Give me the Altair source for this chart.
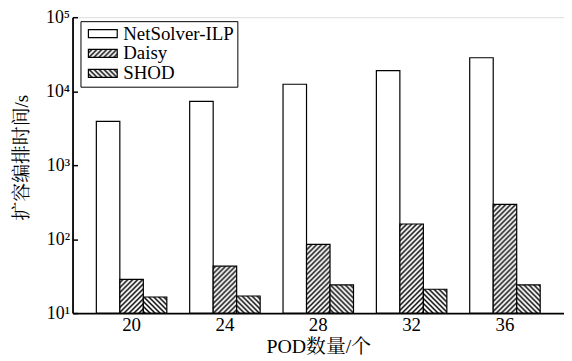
import altair as alt
import pandas as pd
import jinja2

# ---- data ----
pods = ["20", "24", "28", "32", "36"]
methods = ["NetSolver-ILP", "Daisy", "SHOD"]
netsolver_ilp = [3900, 7300, 12400, 19000, 28300]
daisy = [28.5, 43, 85, 160, 295]
shod = [16.5, 17, 24, 21, 24]
y_tick_values = [10, 100, 1000, 10000, 100000]
y_tick_labels = ["10¹", "10²", "10³", "10⁴", "10⁵"]

rows = []
for series_name, vals in zip(methods, [netsolver_ilp, daisy, shod]):
    for p, v in zip(pods, vals):
        rows.append({"pod": p, "method": series_name, "value": v})
df = pd.DataFrame(rows)

SERIF = "Liberation Serif, Noto Serif CJK SC, Noto Sans CJK SC"
fills = ["white", "url(#hatchF) white", "url(#hatchB) white"]

label_expr = "[" + ",".join("'" + s + "'" for s in y_tick_labels) + "][round(log(datum.value)/LN10) - 1]"

bars = alt.Chart(df).mark_bar(stroke="black", strokeWidth=1.2).encode(
    x=alt.X(
        "pod:N",
        sort=pods,
        scale=alt.Scale(paddingInner=0.245, paddingOuter=0.255),
        axis=alt.Axis(
            title="POD数量/个",
            labelAngle=0,
            labelFont=SERIF,
            labelFontSize=19,
            labelColor="black",
            labelPadding=3,
            ticks=False,
            domainColor="black",
            domainWidth=1.8,
            titleFont=SERIF,
            titleFontSize=20,
            titleFontWeight="normal",
            titleColor="black",
            titlePadding=2,
        ),
    ),
    xOffset=alt.XOffset("method:N", sort=methods),
    y=alt.Y(
        "value:Q",
        stack=None,
        scale=alt.Scale(type="log", domain=[10, 100000]),
        axis=alt.Axis(
            title="扩容编排时间/s",
            values=y_tick_values,
            labelExpr=label_expr,
            labelFont=SERIF,
            labelFontSize=18,
            labelColor="black",
            labelPadding=8,
            tickSize=alt.ExprRef("-5"),
            tickColor="black",
            tickWidth=1.5,
            domainColor="black",
            domainWidth=1.8,
            grid=False,
            titleFont=SERIF,
            titleFontSize=19,
            titleFontWeight="normal",
            titleColor="black",
            titleX=-51,
            titleY=141,
            titleAngle=-90,
            titleAlign="center",
            titleBaseline="middle",
        ),
    ),
    fill=alt.Fill(
        "method:N",
        sort=methods,
        scale=alt.Scale(domain=methods, range=fills),
        legend=alt.Legend(
            title=None,
            orient="none",
            legendX=8,
            legendY=4,
            direction="vertical",
            symbolType="M-3.6,-1H3.6V1H-3.6Z",
            symbolSize=65,
            symbolStrokeColor="black",
            symbolStrokeWidth=1.2,
            symbolOffset=10,
            labelFont=SERIF,
            labelFontSize=19,
            labelColor="black",
            labelOffset=11,
            rowPadding=-1,
            padding=3,
            strokeColor="black",
            fillColor="white",
        ),
    ),
)

chart = bars.properties(
    width=495,
    height=298,
    autosize=alt.AutoSizeParams(type="none"),
    padding={"left": 65, "top": 8, "right": 0, "bottom": 47},
).configure_view(
    stroke="black", strokeWidth=1.8
).configure(background="white", font=SERIF)

TEMPLATE = jinja2.Template("""<!DOCTYPE html>
<html>
<head>
  <style>
    #{{ output_div }}.vega-embed { width: 100%; display: flex; }
    #{{ output_div }}.vega-embed details,
    #{{ output_div }}.vega-embed details summary { position: relative; }
  </style>
  <script type="text/javascript" src="{{ base_url }}/vega@{{ vega_version }}"></script>
  <script type="text/javascript" src="{{ base_url }}/vega-lite@{{ vegalite_version }}"></script>
  <script type="text/javascript" src="{{ base_url }}/vega-embed@{{ vegaembed_version }}"></script>
</head>
<body>
  <svg width="0" height="0" style="position:absolute;left:0;top:0">
    <defs>
      <pattern id="hatchF" patternUnits="userSpaceOnUse" width="5" height="5">
        <rect width="5" height="5" fill="white"/>
        <path d="M-1,6 L6,-1 M-1,1 L1,-1 M4,6 L6,4" stroke="black" stroke-width="1.5"/>
      </pattern>
      <pattern id="hatchB" patternUnits="userSpaceOnUse" width="5" height="5">
        <rect width="5" height="5" fill="white"/>
        <path d="M-1,-1 L6,6 M4,-1 L6,1 M-1,4 L1,6" stroke="black" stroke-width="1.5"/>
      </pattern>
    </defs>
  </svg>
  <div id="{{ output_div }}"></div>
  <script>
    (function(vegaEmbed) {
      var spec = {{ spec }};
      var embedOpt = {{ embed_options }};
      function showError(el, error){
          el.innerHTML = ('<div style="color:red;"><p>JavaScript Error: ' + error.message + '</p></div>');
          throw error;
      }
      const el = document.getElementById('{{ output_div }}');
      vegaEmbed("#{{ output_div }}", spec, embedOpt).catch(error => showError(el, error));
    })(vegaEmbed);
  </script>
</body>
</html>
""")

chart.save("out.html", embed_options={"renderer": "svg", "actions": False}, template=TEMPLATE)
